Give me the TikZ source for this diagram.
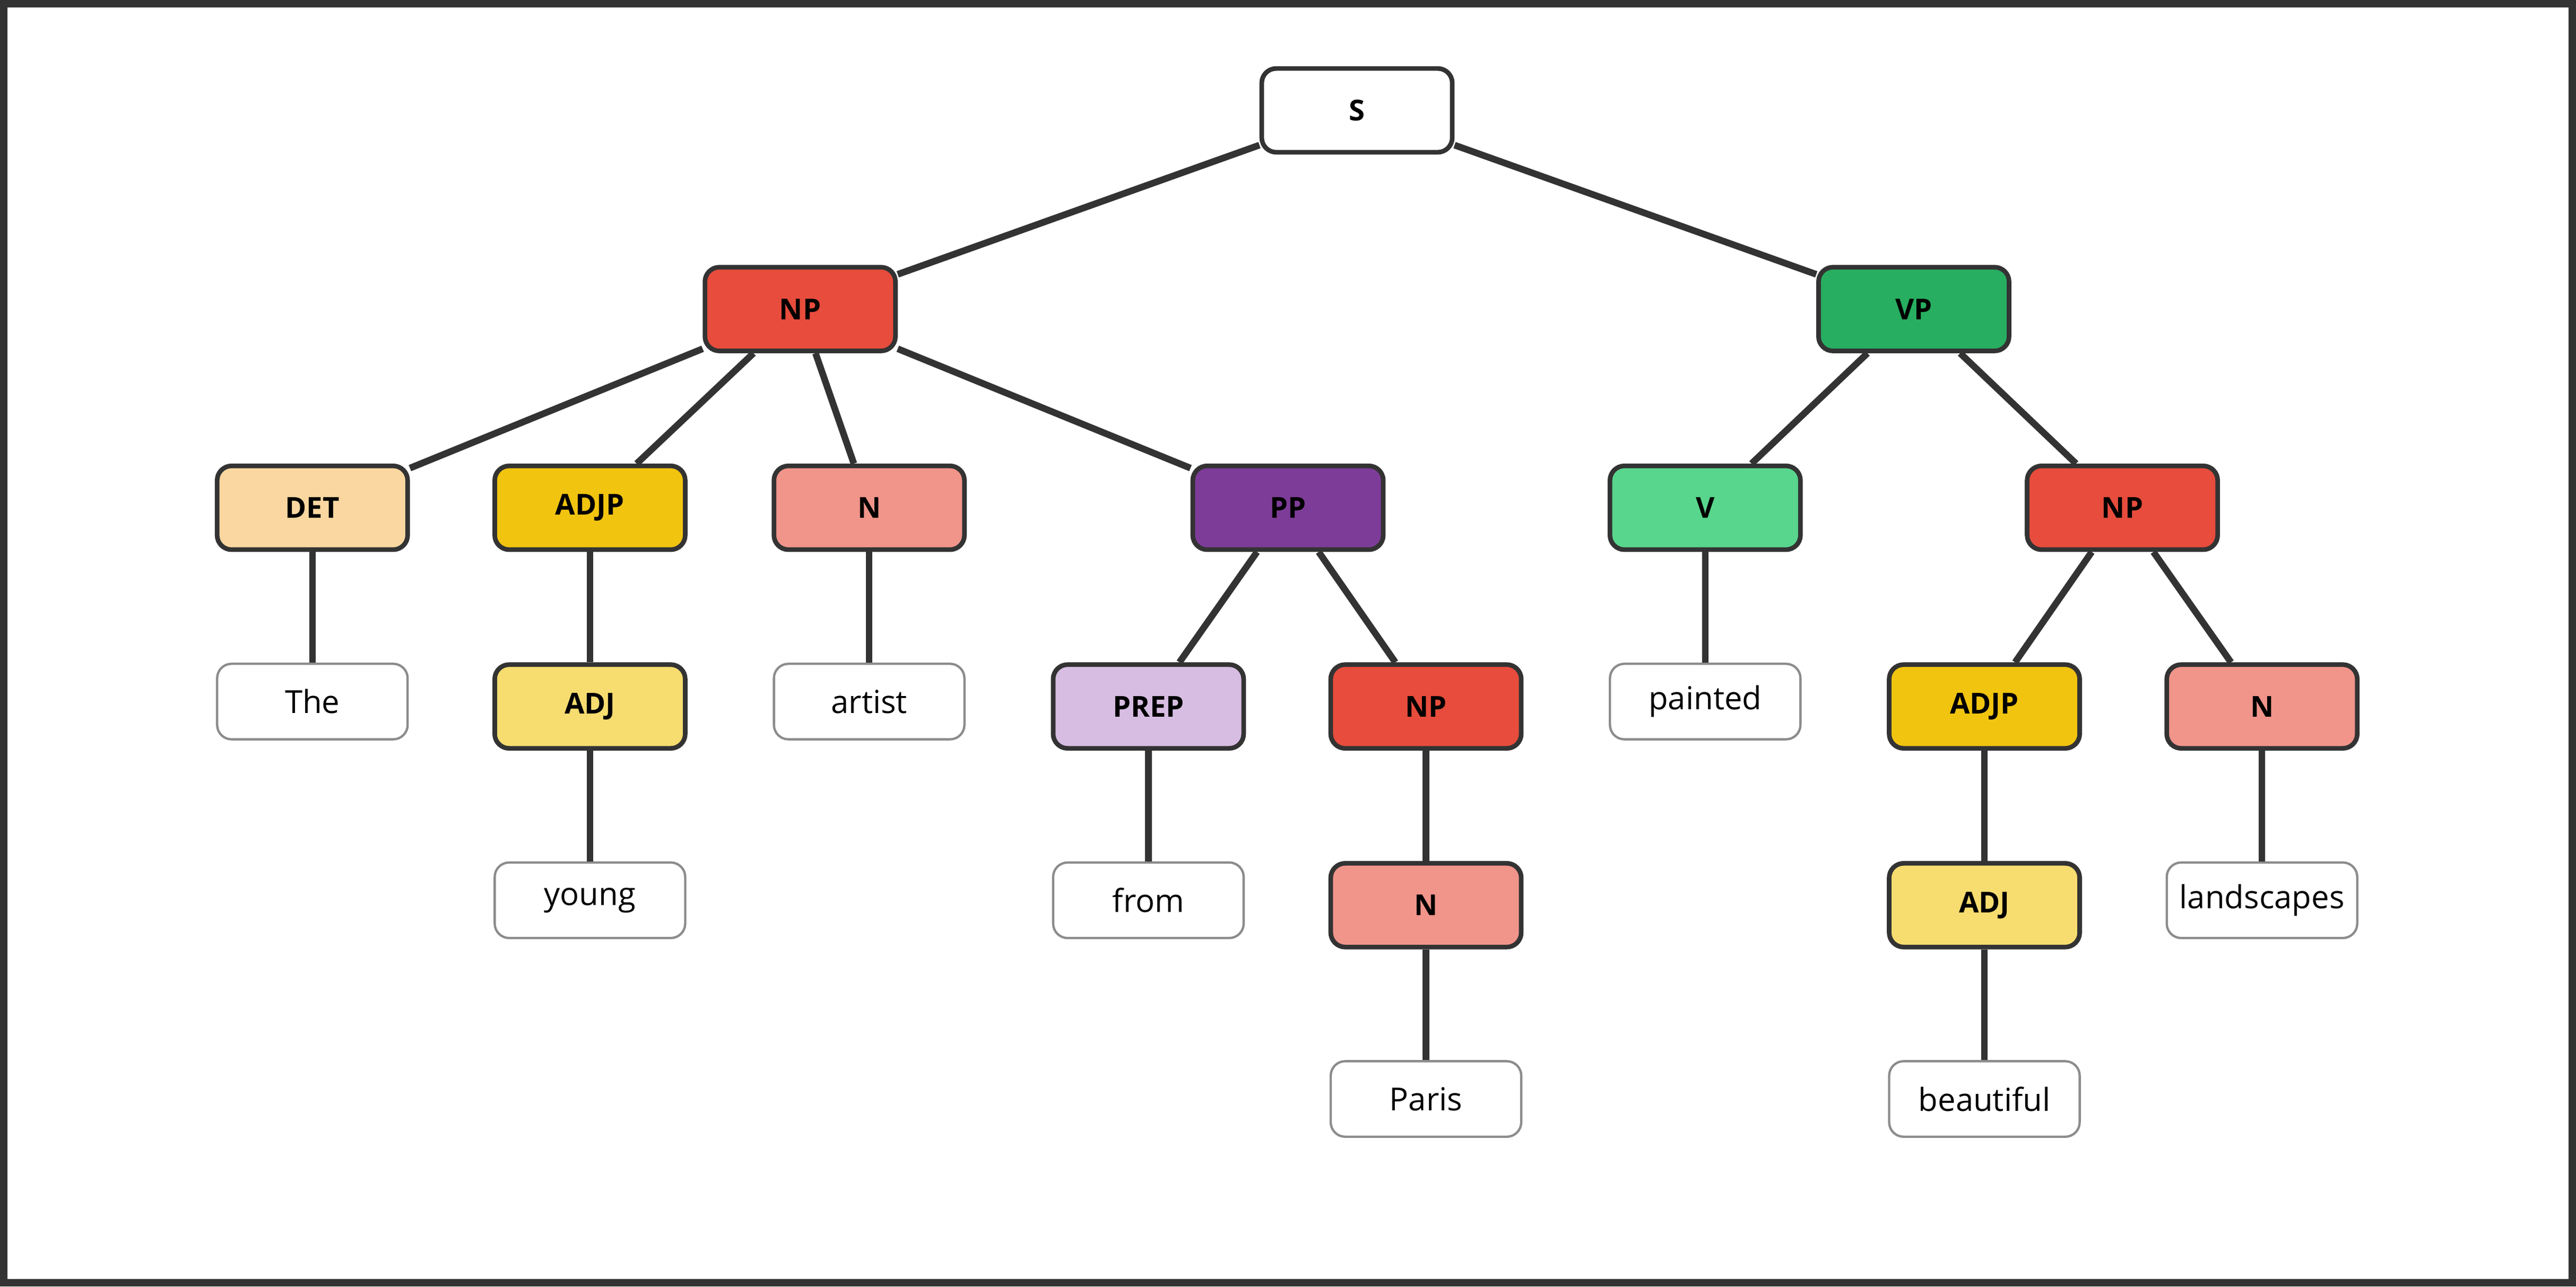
\documentclass[tikz,border=0pt]{standalone}
\usepackage{fontspec}
\setmainfont{Open Sans}
\begin{document}
\begin{tikzpicture}[x=0.02cm,y=-0.02cm,
  cat/.style={draw=black!80,line width=1.6pt,rounded corners=5pt,minimum width=2.32cm,minimum height=1.02cm,font=\fontsize{10}{12}\selectfont\bfseries,inner sep=0pt},
  word/.style={draw=black!45,line width=0.8pt,rounded corners=5pt,fill=white,minimum width=2.32cm,minimum height=0.92cm,font=\fontsize{11}{13}\selectfont,inner sep=0pt},
  edge/.style={draw=black!80,line width=2.3pt}]
\draw[black!80,line width=2.5pt,fill=white] (2,2) rectangle (1566,781);
\useasboundingbox (0,0) rectangle (1568,783);
\node[cat,fill=white] (S) at (826,67) {S};
\node[cat,fill={rgb,255:red,231;green,76;blue,60}] (NP1) at (487,188) {NP};
\node[cat,fill={rgb,255:red,39;green,174;blue,96}] (VP) at (1165,188) {VP};
\node[cat,fill={rgb,255:red,250;green,215;blue,160}] (DET) at (190,309) {DET};
\node[cat,fill={rgb,255:red,241;green,196;blue,15}] (ADJP1) at (359,309) {ADJP};
\node[cat,fill={rgb,255:red,241;green,148;blue,138}] (N1) at (529,309) {N};
\node[cat,fill={rgb,255:red,125;green,60;blue,152}] (PP) at (784,309) {PP};
\node[cat,fill={rgb,255:red,88;green,214;blue,141}] (V) at (1038,309) {V};
\node[cat,fill={rgb,255:red,231;green,76;blue,60}] (NP3) at (1292,309) {NP};
\node[word] (The) at (190,427) {The};
\node[cat,fill={rgb,255:red,247;green,220;blue,111}] (ADJ1) at (359,430) {ADJ};
\node[word] (artist) at (529,427) {artist};
\node[cat,fill={rgb,255:red,215;green,189;blue,226}] (PREP) at (699,430) {PREP};
\node[cat,fill={rgb,255:red,231;green,76;blue,60}] (NP2) at (868,430) {NP};
\node[word] (painted) at (1038,427) {painted};
\node[cat,fill={rgb,255:red,241;green,196;blue,15}] (ADJP2) at (1208,430) {ADJP};
\node[cat,fill={rgb,255:red,241;green,148;blue,138}] (N3) at (1377,430) {N};
\node[word] (young) at (359,548) {young};
\node[word] (from) at (699,548) {from};
\node[cat,fill={rgb,255:red,241;green,148;blue,138}] (N2) at (868,551) {N};
\node[cat,fill={rgb,255:red,247;green,220;blue,111}] (ADJ2) at (1208,551) {ADJ};
\node[word] (landscapes) at (1377,548) {landscapes};
\node[word] (Paris) at (868,669) {Paris};
\node[word] (beautiful) at (1208,669) {beautiful};
\begin{scope}[on background layer/.try]
\end{scope}
\draw[edge] (S) -- (NP1);
\draw[edge] (S) -- (VP);
\draw[edge] (NP1) -- (DET);
\draw[edge] (NP1) -- (ADJP1);
\draw[edge] (NP1) -- (N1);
\draw[edge] (NP1) -- (PP);
\draw[edge] (DET) -- (The);
\draw[edge] (ADJP1) -- (ADJ1);
\draw[edge] (ADJ1) -- (young);
\draw[edge] (N1) -- (artist);
\draw[edge] (PP) -- (PREP);
\draw[edge] (PP) -- (NP2);
\draw[edge] (PREP) -- (from);
\draw[edge] (NP2) -- (N2);
\draw[edge] (N2) -- (Paris);
\draw[edge] (VP) -- (V);
\draw[edge] (VP) -- (NP3);
\draw[edge] (V) -- (painted);
\draw[edge] (NP3) -- (ADJP2);
\draw[edge] (NP3) -- (N3);
\draw[edge] (ADJP2) -- (ADJ2);
\draw[edge] (ADJ2) -- (beautiful);
\draw[edge] (N3) -- (landscapes);
\end{tikzpicture}
\end{document}
